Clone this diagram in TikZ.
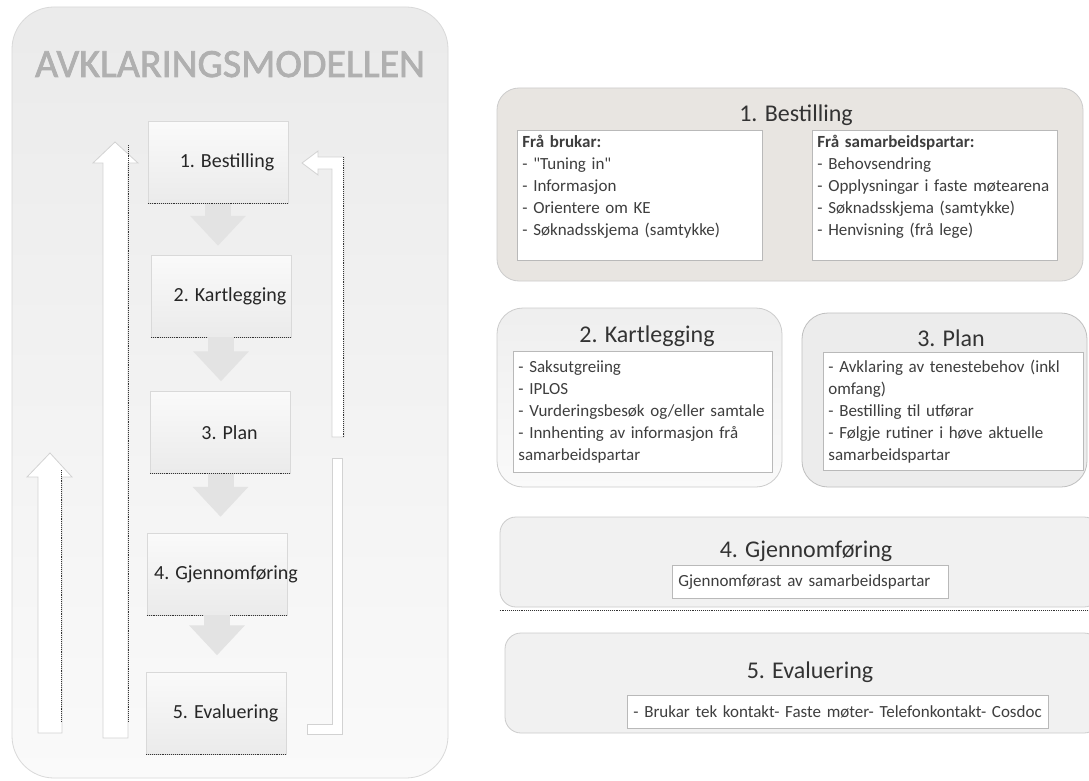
\documentclass[tikz,border=0pt]{standalone}
\usepackage{fontspec}
\setmainfont{Carlito}[Ligatures=TeXOff]
\newfontfamily\titlefont{Carlito}[FakeBold=1.8]
\usetikzlibrary{arrows.meta,positioning,calc}
\definecolor{warmgray}{RGB}{232,229,225}
\definecolor{inktext}{RGB}{62,62,62}
\tikzset{
	>=latex,
	frame/.style={draw=gray!30, line width=0.8pt, top color=gray!16, bottom color=gray!4, rounded corners=42pt},
	maintitle/.style={anchor=base, font=\titlefont\fontsize{40}{44}\selectfont, text=gray!62},
	stepbox/.style={draw=gray!30, top color=gray!4, bottom color=gray!16, minimum width=140pt, minimum height=82pt, inner sep=0pt},
	steplabel/.style={font=\fontsize{20}{24}\selectfont, text=black!85},
	flowarrow/.style={line width=26pt, draw=gray!22, -{Triangle[length=30pt,width=54pt]}},
	loopband/.style={fill=white, draw=gray!35, line width=0.8pt},
	scanline/.style={densely dotted, line width=0.9pt, black!80},
	panel/.style={draw=gray!40, line width=0.8pt, rounded corners=22pt},
	paneltitle/.style={anchor=base, font=\fontsize{24}{28}\selectfont, text=black!80},
	listbox/.style={draw=gray!55, fill=white, line width=0.8pt, anchor=north west, align=left, inner xsep=5pt, inner ysep=0pt, font=\fontsize{17}{22}\selectfont, text=inktext}
}
\begin{document}
\begin{tikzpicture}[x=1pt, y=-1pt]
	\useasboundingbox (0,0) rectangle (1089,781);
	\clip (0,0) rectangle (1089,781);
	\fill[white] (0,0) rectangle (1089,781);
	\node[frame, minimum width=436pt, minimum height=771pt] (frame) at (230,392.5) {};
	\node[maintitle] (title) at (230,77) {AVKLARINGSMODELLEN};
	\draw[loopband] (103,738) -- (103,163) -- (93,163) -- (115,142) -- (138,163) -- (128,163) -- (128,738) -- cycle;
	\draw[loopband] (38,733) -- (38,477) -- (27,477) -- (50,453) -- (72,477) -- (62,477) -- (62,733) -- cycle;
	\draw[loopband] (332,437) -- (332,169) -- (318,169) -- (318,175) -- (302,163) -- (318,151) -- (318,157) -- (344,157) -- (344,437) -- cycle;
	\draw[loopband] (307,724) -- (332,724) -- (332,458) -- (342,458) -- (342,734) -- (307,734) -- cycle;
	\draw[scanline] (128,145) -- (128,722);
	\draw[scanline] (61,470) -- (61,722);
	\draw[scanline] (343,157) -- (343,437);
	\node[stepbox, label={[steplabel, xshift=9pt]center:1. Bestilling}] (s1) at (218,162.5) {};
	\node[stepbox, label={[steplabel, xshift=9pt]center:2. Kartlegging}] (s2) at (221,296) {};
	\node[stepbox, label={[steplabel, xshift=9pt]center:3. Plan}] (s3) at (220.5,432.5) {};
	\node[stepbox, label={[steplabel, xshift=9pt]center:4. Gjennomføring}] (s4) at (217,574) {};
	\node[stepbox, label={[steplabel, xshift=9pt]center:5. Evaluering}] (s5) at (216.5,713.5) {};
	\foreach \i in {1,...,5}
		\draw[scanline] (s\i.south west) -- (s\i.south east);
	\draw[flowarrow, shorten >=9pt] (s1.south) -- (s1.south |- s2.north);
	\draw[flowarrow, shorten >=10pt] (s2.south) -- (s2.south |- s3.north);
	\draw[flowarrow, shorten >=16pt] (s3.south) -- (s3.south |- s4.north);
	\draw[flowarrow, shorten >=17pt] (s4.south) -- (s4.south |- s5.north);
	\node[panel, fill=warmgray, minimum width=586pt, minimum height=193pt] (p1) at (790,184.5) {};
	\node[panel, top color=gray!13, bottom color=gray!4, minimum width=285pt, minimum height=179pt, rounded corners=26pt] (p2) at (639.5,397.5) {};
	\node[panel, fill=gray!15, draw=gray!50, minimum width=285pt, minimum height=174pt, rounded corners=26pt] (p3) at (944.5,400) {};
	\node[panel, fill=gray!11, minimum width=600pt, minimum height=90pt, rounded corners=16pt] (p4) at (800,562) {};
	\node[panel, fill=gray!11, minimum width=595pt, minimum height=100pt, rounded corners=16pt] (p5) at (802.5,683) {};
	\draw[scanline] ([yshift=-3pt]p4.south west) -- ([yshift=-3pt]p4.south east);
	\node[paneltitle] (t1) at (796,122) {1. Bestilling};
	\node[paneltitle] (t2) at (647,342) {2. Kartlegging};
	\node[paneltitle] (t3) at (951,346) {3. Plan};
	\node[paneltitle] (t4) at (806,557) {4. Gjennomføring};
	\node[paneltitle] (t5) at (810,678) {5. Evaluering};
	\node[listbox, text width=235pt, minimum height=130pt] (b1l) at (517,130) {\textbf{Frå brukar:}\\- "Tuning in"\\- Informasjon\\- Orientere om KE\\- Søknadsskjema (samtykke)\\[-2pt]\mbox{}};
	\node[listbox, text width=235pt, minimum height=130pt] (b1r) at (812,130) {\textbf{Frå samarbeidspartar:}\\- Behovsendring\\- Opplysningar i faste møtearena\\- Søknadsskjema (samtykke)\\- Henvisning (frå lege)\\[-2pt]\mbox{}};
	\node[listbox, text width=249pt, minimum height=121pt] (b2) at (513,351) {- Saksutgreiing\\- IPLOS\\- Vurderingsbesøk og/eller samtale\\- Innhenting av informasjon frå\\samarbeidspartar};
	\node[listbox, text width=250pt, minimum height=118pt] (b3) at (823,352) {- Avklaring av tenestebehov (inkl\\omfang)\\- Bestilling til utførar\\- Følgje rutiner i høve aktuelle\\samarbeidspartar};
	\node[listbox, text width=264pt, minimum height=33pt, inner xsep=6pt] (b4) at (672,565) {Gjennomførast av samarbeidspartar};
	\node[listbox, text width=409pt, minimum height=33pt, inner xsep=6pt] (b5) at (627,695) {- Brukar tek kontakt- Faste møter- Telefonkontakt- Cosdoc};
\end{tikzpicture}
\end{document}
